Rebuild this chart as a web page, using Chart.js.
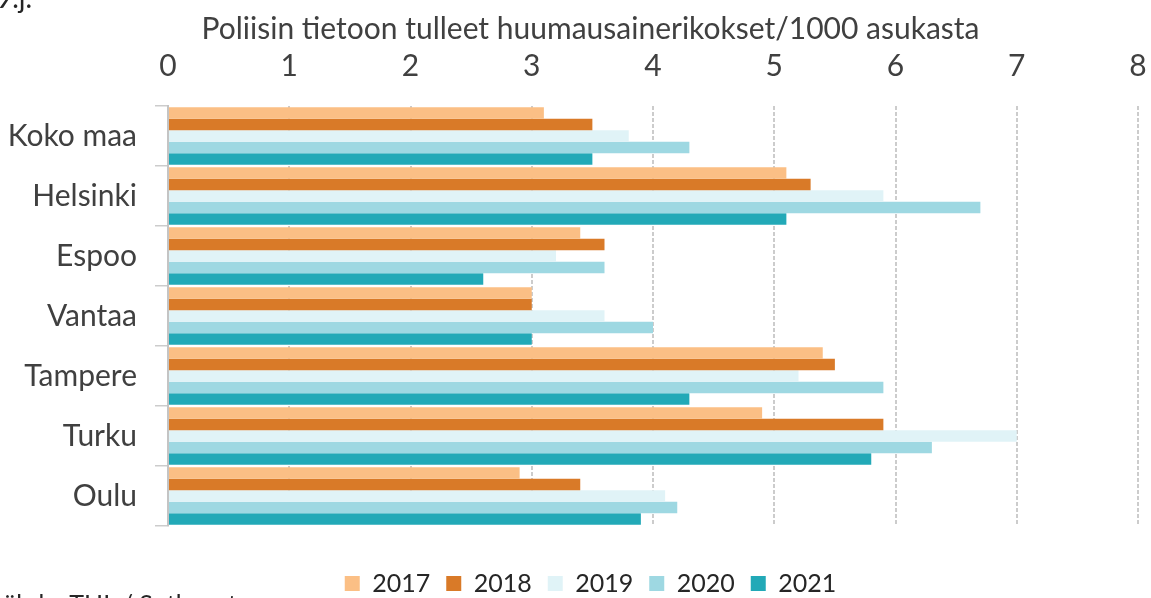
<!DOCTYPE html>
<html>
<head>
<meta charset="utf-8">
<script src="https://cdn.jsdelivr.net/npm/chart.js@4.4.1/dist/chart.umd.min.js"></script>
<style>
  html, body { margin: 0; padding: 0; background: #fff; overflow: hidden; }
  #wrap { position: relative; width: 1151px; height: 598px; overflow: hidden; }
  .note { position: absolute; font-family: Lato, sans-serif; color: #262626; white-space: nowrap; }
</style>
</head>
<body>
<div id="wrap">
  <canvas id="chart" width="1181" height="598"></canvas>
  <div class="note" style="left:-4px; top:-17px; font-size:28px; line-height:28px;">9.j.</div>
  <div class="note" style="left:-9px; top:591px; font-size:25px; line-height:25px;">Lähde: THL / Sotkanet</div>
</div>
<script>
const categories = ['Koko maa', 'Helsinki', 'Espoo', 'Vantaa', 'Tampere', 'Turku', 'Oulu'];
const years = ['2017', '2018', '2019', '2020', '2021'];
const v2017 = [3.1, 5.1, 3.4, 3.0, 5.4, 4.9, 2.9];
const v2018 = [3.5, 5.3, 3.6, 3.0, 5.5, 5.9, 3.4];
const v2019 = [3.8, 5.9, 3.2, 3.6, 5.2, 7.0, 4.1];
const v2020 = [4.3, 6.7, 3.6, 4.0, 5.9, 6.3, 4.2];
const v2021 = [3.5, 5.1, 2.6, 3.0, 4.3, 5.8, 3.9];
const colors = ['#FBBF85', '#D97A28', '#E0F3F7', '#9ED8E2', '#22A9B7'];
const titleText = 'Poliisin tietoon tulleet huumausainerikokset/1000 asukasta';

const font = 'Lato';
const txt = '#404040';
const gridCol = '#cccccc';
const canvasW = 1181;

const series = [v2017, v2018, v2019, v2020, v2021];

window.addEventListener('load', drawChart);

function drawChart() {
  let ctx = document.getElementById('chart').getContext('2d');
  new Chart(ctx, {
    type: 'bar',
    data: {
      labels: categories,
      datasets: series.map((vals, i) => ({
        label: years[i],
        data: vals,
        xAxisID: 'x',
        yAxisID: 'y',
        backgroundColor: colors[i],
        borderWidth: 0,
        categoryPercentage: 0.955,
        barPercentage: 1
      }))
    },
    options: {
      indexAxis: 'y',
      responsive: false,
      animation: false,
      layout: { padding: { left: 0, right: 0, top: 0, bottom: -8 } },
      scales: {
        x: {
          position: 'top',
          min: 0,
          max: 8,
          ticks: { stepSize: 1, padding: 0, color: txt, font: { family: font, size: 30 } },
          // invisible tick marks push the labels up without widening the side padding
          grid: { color: gridCol, lineWidth: 2, drawTicks: true, tickLength: 22, tickColor: 'rgba(0,0,0,0)' },
          border: { display: false, dash: [4, 2] },
          afterFit: s => { s.height = 106 - (30 * 1.2 + 11); }
        },
        y: {
          ticks: { padding: 18, color: txt, font: { family: font, size: 30 } },
          grid: { drawOnChartArea: false, drawTicks: true, tickLength: 13, color: gridCol, lineWidth: 1.5 },
          border: { color: '#c4c4c4', width: 2, dash: [3, 1] },
          afterFit: s => { s.width = 168; }
        },
        // empty axes used only as spacers
        gap: {
          type: 'linear',
          axis: 'x',
          position: 'bottom',
          ticks: { display: false },
          grid: { display: false },
          border: { display: false },
          afterFit: s => { s.height = 29; }
        },
        side: {
          type: 'linear',
          axis: 'y',
          position: 'right',
          ticks: { display: false },
          grid: { display: false },
          border: { display: false },
          afterFit: s => { s.width = canvasW - 1138; }
        }
      },
      plugins: {
        title: {
          display: true,
          text: titleText,
          color: txt,
          font: { family: font, size: 30, weight: 'normal' },
          padding: { top: 11, bottom: 0 }
        },
        legend: {
          position: 'bottom',
          labels: {
            boxWidth: 15,
            boxHeight: 15,
            padding: 16,
            color: '#262626',
            font: { family: font, size: 25 }
          }
        },
        tooltip: { enabled: false }
      }
    }
  });
}
</script>
</body>
</html>
